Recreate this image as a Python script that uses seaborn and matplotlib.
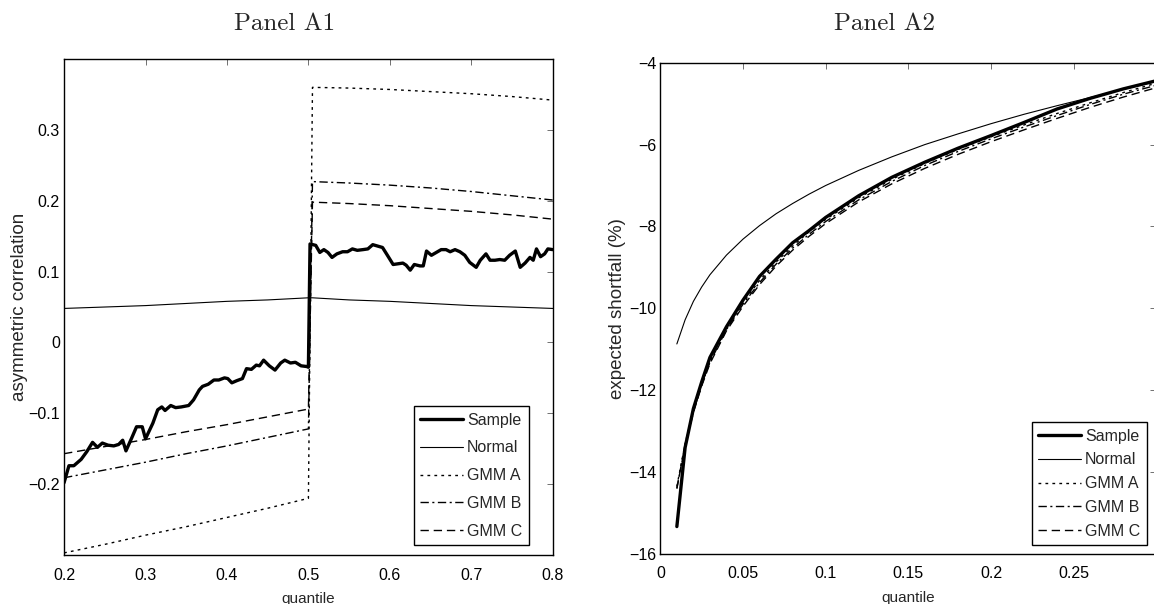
import numpy as np
import pandas as pd
import seaborn as sns
import matplotlib.pyplot as plt

# ---- Panel A1 data: asymmetric correlation vs quantile ----
model_q = [0.2, 0.25, 0.3, 0.35, 0.4, 0.45, 0.5, 0.505, 0.55, 0.6, 0.65, 0.7, 0.75, 0.8]
normal_corr = [0.048, 0.050, 0.052, 0.055, 0.058, 0.060, 0.063,
               0.063, 0.060, 0.058, 0.055, 0.052, 0.050, 0.048]
gmm_a_corr = [-0.297, -0.285, -0.272, -0.260, -0.247, -0.234, -0.220,
              0.360, 0.359, 0.357, 0.354, 0.351, 0.347, 0.342]
gmm_b_corr = [-0.191, -0.180, -0.169, -0.157, -0.146, -0.134, -0.122,
              0.227, 0.225, 0.222, 0.218, 0.213, 0.207, 0.201]
gmm_c_corr = [-0.157, -0.147, -0.137, -0.126, -0.116, -0.105, -0.094,
              0.198, 0.196, 0.193, 0.189, 0.185, 0.180, 0.174]

sample_q = [0.2, 0.206, 0.212, 0.221, 0.228, 0.235, 0.241, 0.247, 0.254, 0.261,
            0.267, 0.272, 0.276, 0.283, 0.289, 0.296, 0.300, 0.309, 0.315, 0.320,
            0.324, 0.331, 0.337, 0.344, 0.353, 0.359, 0.366, 0.370, 0.377, 0.384,
            0.390, 0.397, 0.401, 0.406, 0.412, 0.419, 0.424, 0.430, 0.436, 0.440,
            0.445, 0.452, 0.459, 0.466, 0.471, 0.478, 0.484, 0.491, 0.498, 0.5,
            0.502, 0.509, 0.514, 0.519, 0.524, 0.529, 0.535, 0.542, 0.548, 0.554,
            0.560, 0.567, 0.573, 0.579, 0.585, 0.591, 0.597, 0.604, 0.610, 0.616,
            0.620, 0.625, 0.630, 0.637, 0.641, 0.645, 0.651, 0.657, 0.663, 0.669,
            0.674, 0.680, 0.686, 0.692, 0.698, 0.706, 0.711, 0.718, 0.723, 0.729,
            0.735, 0.741, 0.747, 0.754, 0.760, 0.766, 0.772, 0.776, 0.780, 0.785,
            0.790, 0.794, 0.8]
sample_corr = [-0.198, -0.174, -0.174, -0.165, -0.154, -0.141, -0.148, -0.142, -0.145, -0.146,
               -0.144, -0.138, -0.153, -0.135, -0.119, -0.119, -0.136, -0.114, -0.095, -0.091,
               -0.096, -0.089, -0.092, -0.091, -0.089, -0.081, -0.067, -0.062, -0.059, -0.053,
               -0.053, -0.050, -0.051, -0.057, -0.054, -0.051, -0.037, -0.038, -0.032, -0.033,
               -0.025, -0.033, -0.039, -0.029, -0.025, -0.029, -0.028, -0.033, -0.034, -0.035,
               0.139, 0.137, 0.127, 0.131, 0.127, 0.120, 0.125, 0.128, 0.128, 0.132,
               0.130, 0.131, 0.132, 0.138, 0.136, 0.134, 0.123, 0.110, 0.111, 0.112,
               0.109, 0.102, 0.110, 0.108, 0.108, 0.129, 0.123, 0.127, 0.131, 0.131,
               0.128, 0.131, 0.128, 0.123, 0.113, 0.106, 0.116, 0.125, 0.116, 0.116,
               0.117, 0.116, 0.123, 0.129, 0.106, 0.112, 0.120, 0.116, 0.132, 0.121,
               0.125, 0.132, 0.131]

# ---- Panel A2 data: expected shortfall (%) vs quantile ----
es_q = [0.01, 0.015, 0.02, 0.025, 0.03, 0.04, 0.05, 0.06, 0.07, 0.08, 0.09, 0.1,
        0.12, 0.14, 0.16, 0.18, 0.2, 0.22, 0.24, 0.26, 0.28, 0.3]
es_sample = [-15.33, -13.40, -12.45, -11.80, -11.20, -10.45, -9.80, -9.22, -8.80, -8.40,
             -8.10, -7.78, -7.25, -6.80, -6.43, -6.09, -5.78, -5.46, -5.13, -4.87, -4.64, -4.44]
es_normal = [-10.87, -10.28, -9.83, -9.48, -9.18, -8.70, -8.31, -7.98, -7.69, -7.44,
             -7.21, -7.00, -6.63, -6.30, -6.00, -5.74, -5.49, -5.26, -5.05, -4.85, -4.65, -4.46]
es_gmm_a = [-14.35, -13.30, -12.50, -11.85, -11.28, -10.48, -9.86, -9.32, -8.87, -8.48,
            -8.13, -7.83, -7.30, -6.85, -6.46, -6.12, -5.81, -5.52, -5.24, -4.98, -4.73, -4.50]
es_gmm_b = [-14.40, -13.32, -12.52, -11.87, -11.32, -10.52, -9.90, -9.37, -8.92, -8.53,
            -8.19, -7.88, -7.35, -6.90, -6.51, -6.17, -5.86, -5.57, -5.29, -5.02, -4.77, -4.55]
es_gmm_c = [-14.40, -13.35, -12.55, -11.90, -11.35, -10.55, -9.95, -9.42, -8.97, -8.58,
            -8.24, -7.93, -7.40, -6.96, -6.58, -6.24, -5.93, -5.64, -5.36, -5.09, -4.84, -4.61]

# ticks
a1_xticks = [0.2, 0.3, 0.4, 0.5, 0.6, 0.7, 0.8]
a1_xlabels = ['0.2', '0.3', '0.4', '0.5', '0.6', '0.7', '0.8']
a1_yticks = [-0.2, -0.1, 0, 0.1, 0.2, 0.3]
a1_ylabels = ['\u22120.2', '\u22120.1', '0', '0.1', '0.2', '0.3']
a2_xticks = [0, 0.05, 0.1, 0.15, 0.2, 0.25, 0.3]
a2_xlabels = ['0', '0.05', '0.1', '0.15', '0.2', '0.25', '']
a2_yticks = [-16, -14, -12, -10, -8, -6, -4]
a2_ylabels = ['\u221216', '\u221214', '\u221212', '\u221210', '\u22128', '\u22126', '\u22124']

legend_names = ['Sample', 'Normal', 'GMM A', 'GMM B', 'GMM C']

# ---- style ----
sns.set_style("white")
plt.rcParams['font.family'] = ['Liberation Sans', 'DejaVu Sans']
plt.rcParams['axes.unicode_minus'] = True

fig = plt.figure(figsize=(11.54, 6.04), dpi=100)
ax1 = fig.add_axes([0.0555, 0.0811, 0.4235, 0.8212])
ax2 = fig.add_axes([0.5722, 0.0828, 0.4298, 0.8134])

styles = {
    'Sample': dict(lw=2.4, linestyle='-'),
    'Normal': dict(lw=0.8, linestyle='-'),
    'GMM A': dict(lw=1.0, linestyle=(0, (2, 3))),
    'GMM B': dict(lw=1.0, linestyle=(0, (6, 2.5, 1.5, 2.5))),
    'GMM C': dict(lw=1.0, linestyle=(0, (6, 3.5))),
}


def draw(ax, series):
    handles = []
    for name, (xs, ys) in zip(legend_names, series):
        sns.lineplot(x=xs, y=ys, ax=ax, color='black', sort=False,
                     estimator=None, **styles[name])
        handles.append(ax.lines[-1])
    return handles


h1 = draw(ax1, [(sample_q, sample_corr), (model_q, normal_corr), (model_q, gmm_a_corr),
                (model_q, gmm_b_corr), (model_q, gmm_c_corr)])
h2 = draw(ax2, [(es_q, es_sample), (es_q, es_normal), (es_q, es_gmm_a),
                (es_q, es_gmm_b), (es_q, es_gmm_c)])

# axes formatting (matlab look)
for ax in (ax1, ax2):
    for sp in ax.spines.values():
        sp.set_visible(True)
        sp.set_color('black')
        sp.set_linewidth(1.0)
    ax.tick_params(direction='in', length=4, width=0.6, color='0.35',
                   top=True, right=True, labelsize=11.5, labelcolor='black')
    ax.tick_params(axis='x', pad=9)
    ax.tick_params(axis='y', pad=3)
    ax.set_xlabel('quantile', fontsize=11, labelpad=7)

ax1.set_xlim(0.2, 0.8)
ax1.set_ylim(-0.3, 0.4)
ax1.set_xticks(a1_xticks, a1_xlabels)
ax1.set_yticks(a1_yticks, a1_ylabels)
ax1.set_ylabel('asymmetric correlation', fontsize=13.5, labelpad=0)

ax2.set_xlim(0, 0.3)
ax2.set_ylim(-16, -4)
ax2.set_xticks(a2_xticks, a2_xlabels)
ax2.set_yticks(a2_yticks, a2_ylabels)
ax2.set_ylabel('expected shortfall (%)', fontsize=13.5, labelpad=2)

leg1 = ax1.legend(h1, legend_names, loc='lower right', bbox_to_anchor=(0.951, 0.020),
                  borderaxespad=0, fontsize=11.5, handlelength=2.7, handletextpad=0.25,
                  labelspacing=0.8, borderpad=0.4, fancybox=False, framealpha=1)
leg2 = ax2.legend(h2, legend_names, loc='lower right', bbox_to_anchor=(0.981, 0.018),
                  borderaxespad=0, fontsize=11.5, handlelength=2.7, handletextpad=0.25,
                  labelspacing=0.55, borderpad=0.4, fancybox=False, framealpha=1)
for leg in (leg1, leg2):
    leg.get_frame().set_edgecolor('black')
    leg.get_frame().set_linewidth(1.0)

fig.text(285 / 1154, 1 - 24 / 604, 'Panel A1', family='cmr10', fontsize=18,
         ha='center', va='center')
fig.text(884 / 1154, 1 - 24 / 604, 'Panel A2', family='cmr10', fontsize=18,
         ha='center', va='center')

fig.savefig('out.png', dpi=100)
